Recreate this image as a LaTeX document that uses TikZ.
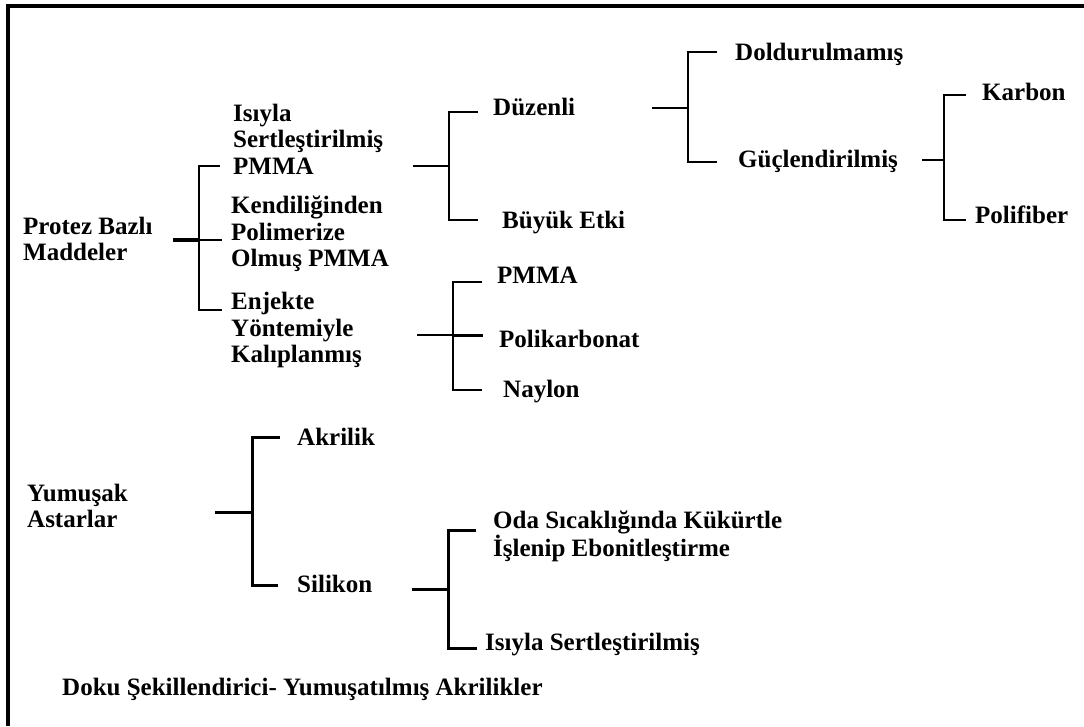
\documentclass[tikz,border=0pt]{standalone}
\usepackage{fontspec}
\setmainfont{Liberation Serif}
\begin{document}
\begin{tikzpicture}[x=1pt,y=-1pt,
    item/.style={inner sep=0pt,anchor=base west,font=\bfseries\fontsize{25}{26.5}\selectfont},
    block/.style={item,anchor=west,align=left},
    tree/.style={line width=2.5pt},
    thintree/.style={line width=2pt},
    frame/.style={line width=4pt}
  ]
  \useasboundingbox (0,0) rectangle (1084,726);
  % frame (top and left edge only)
  \coordinate (fbl) at (8,726);
  \coordinate (ftl) at (8,6);
  \coordinate (ftr) at (1084,6);
  \draw[frame] (fbl) -- (ftl) -- (ftr);

  % texts
  \node[block] (protez) at (23,239) {Protez Bazlı\\Maddeler};
  \node[block] (isi) at (233,139) {Isıyla\\Sertleştirilmiş\\PMMA};
  \node[block] (kend) at (231,234) {Kendiliğinden\\Polimerize\\Olmuş PMMA};
  \node[block] (enj) at (231,330) {Enjekte\\Yöntemiyle\\Kalıplanmış};
  \node[item] (duz) at (493,115) {Düzenli};
  \node[item] (buyuk) at (502,228) {Büyük Etki};
  \node[item] (pmma) at (497,283) {PMMA};
  \node[item] (polik) at (499,347) {Polikarbonat};
  \node[item] (naylon) at (503,397) {Naylon};
  \node[item] (dold) at (735,60) {Doldurulmamış};
  \node[item] (guc) at (738,167) {Güçlendirilmiş};
  \node[item] (karbon) at (982,100) {Karbon};
  \node[item] (polif) at (975,223) {Polifiber};
  \node[block] (yum) at (27,506) {Yumuşak\\Astarlar};
  \node[item] (akr) at (297,445) {Akrilik};
  \node[item] (sil) at (297,592) {Silikon};
  \node[block] (oda) at (493,536) {Oda Sıcaklığında Kükürtle\\İşlenip Ebonitleştirme};
  \node[item] (isi2) at (485,650) {Isıyla Sertleştirilmiş};
  \node[item] (doku) at (62,695) {Doku Şekillendirici- Yumuşatılmış Akrilikler};

  % protez bracket
  \coordinate (r1) at (173,240);
  \coordinate (s1) at (199,240);
  \coordinate (a1) at (220,166);
  \coordinate (m1) at (222,240);
  \coordinate (b1) at (222,310);
  \draw[tree,line width=3.5pt] (r1) -- (s1);
  \draw[tree] (a1) -| (s1) |- (b1);
  \draw[tree] (s1) -- (m1);

  % isiyla bracket
  \coordinate (r2) at (413,166);
  \coordinate (s2) at (449,166);
  \coordinate (a2) at (478,112);
  \coordinate (b2) at (478,220);
  \draw[thintree] (r2) -- (s2);
  \draw[tree] (a2) -| (s2) |- (b2);

  % duzenli bracket
  \coordinate (r3) at (652,108);
  \coordinate (s3) at (688,108);
  \coordinate (a3) at (717,52);
  \coordinate (b3) at (717,162);
  \draw[thintree] (r3) -- (s3);
  \draw[tree] (a3) -| (s3) |- (b3);

  % guclendirilmis bracket
  \coordinate (r4) at (922,160);
  \coordinate (s4) at (944,160);
  \coordinate (a4) at (966,95);
  \coordinate (b4) at (966,220);
  \draw[thintree] (r4) -- (s4);
  \draw[tree] (a4) -| (s4) |- (b4);

  % enjekte bracket
  \coordinate (r5) at (417,335);
  \coordinate (s5) at (453,335);
  \coordinate (a5) at (482,282);
  \coordinate (m5) at (483,335);
  \coordinate (b5) at (482,390);
  \draw[thintree] (r5) -- (s5);
  \draw[tree] (a5) -| (s5) |- (b5);
  \draw[tree,line width=3pt] (s5) -- (m5);

  % yumusak bracket
  \coordinate (r6) at (215,512);
  \coordinate (s6) at (252,512);
  \coordinate (a6) at (280,437);
  \coordinate (b6) at (278,585);
  \draw[tree,line width=3pt] (r6) -- (s6);
  \draw[tree,line width=3pt] (a6) -| (s6) |- (b6);

  % silikon bracket
  \coordinate (r7) at (412,589);
  \coordinate (s7) at (448,589);
  \coordinate (a7) at (476,530);
  \coordinate (b7) at (477,648);
  \draw[tree,line width=3pt] (r7) -- (s7);
  \draw[tree,line width=3pt] (a7) -| (s7) |- (b7);
\end{tikzpicture}
\end{document}
